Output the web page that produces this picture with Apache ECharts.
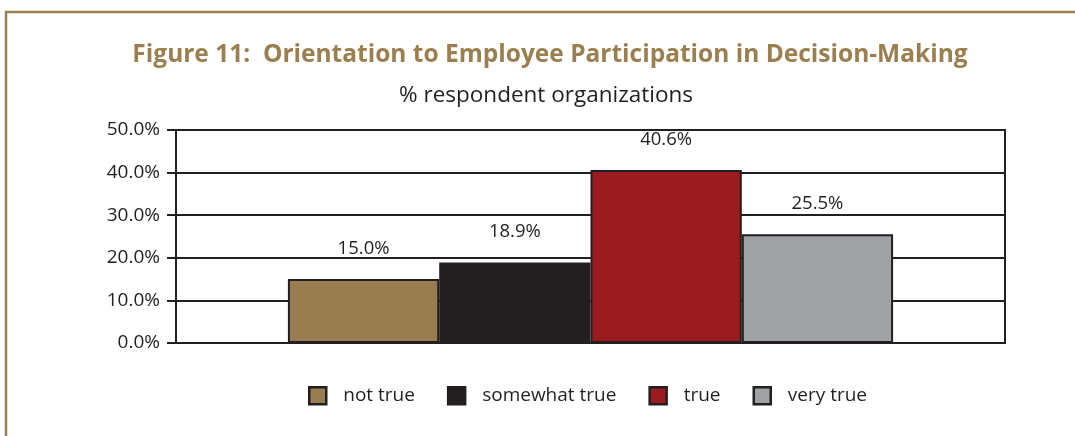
<!DOCTYPE html>
<html>
<head>
<meta charset="utf-8">
<script src="https://cdn.jsdelivr.net/npm/echarts@6/dist/echarts.min.js"></script>
<style>
  html, body { margin: 0; padding: 0; background: #fff; }
  #main { width: 1075px; height: 436px; }
</style>
</head>
<body>
<div id="main"></div>
<script>
// data
const categories = ["orientation"];
const seriesNames = ["not true", "somewhat true", "true", "very true"];
const seriesValues = [[15.0], [18.9], [40.6], [25.5]];
const seriesColors = ["#977d4f", "#231f20", "#9b1b20", "#a0a1a4"];
const yTicks = [0, 10, 20, 30, 40, 50];

const font = "'Open Sans', 'Noto Sans', sans-serif";
const pct = (v) => Number(v).toFixed(1) + "%";

const option = {
  animation: false,
  backgroundColor: "#fff",
  textStyle: { fontFamily: font },
  // outer frame
  graphic: [
    {
      type: "polyline",
      shape: { points: [[6, 436], [6, 12], [1075, 12]] },
      style: { stroke: "#9b8052", lineWidth: 2.5, fill: null },
    },
  ],
  title: [
    {
      text: "Figure 11:  Orientation to Employee Participation in Decision-Making",
      left: 545,
      textAlign: "center",
      top: 38,
      textStyle: { color: "#9b7f4f", fontSize: 24.5, fontWeight: "bold", fontFamily: font },
    },
    {
      text: "% respondent organizations",
      left: 541,
      textAlign: "center",
      top: 79,
      textStyle: { color: "#231f20", fontSize: 22.5, fontWeight: "normal", fontFamily: font },
    },
  ],
  grid: {
    left: 176,
    right: 70,
    top: 130,
    bottom: 93,
    show: true,
    borderColor: "#231f20",
    borderWidth: 2,
  },
  legend: {
    top: 381,
    left: 303,
    itemWidth: 17,
    itemHeight: 17,
    itemGap: 32,
    icon: "rect",
    itemStyle: { borderColor: "#231f20", borderWidth: 2.5 },
    textStyle: { fontSize: 19, color: "#231f20", fontFamily: font, padding: [0, 0, 0, 12] },
    data: seriesNames,
  },
  xAxis: {
    type: "category",
    data: categories,
    axisLine: { show: false },
    axisTick: { show: false },
    axisLabel: { show: false },
  },
  yAxis: {
    type: "value",
    min: yTicks[0],
    max: yTicks[yTicks.length - 1],
    interval: 10,
    axisLine: { show: true, lineStyle: { color: "#231f20", width: 2 } },
    axisTick: { show: true, length: 9, lineStyle: { color: "#231f20", width: 2 } },
    axisLabel: { formatter: pct, fontSize: 19, color: "#231f20", margin: 16, fontFamily: font },
    splitLine: { show: true, lineStyle: { color: "#231f20", width: 2 } },
  },
  series: seriesNames.map((name, i) => ({
    name: name,
    type: "bar",
    data: seriesValues[i],
    barGap: "0%",
    barCategoryGap: "27%",
    itemStyle: { color: seriesColors[i], borderColor: "#231f20", borderWidth: 2 },
    label: {
      show: true,
      position: "top",
      distance: 21,
      formatter: (p) => pct(p.value),
      fontSize: 18.5,
      color: "#231f20",
      fontFamily: font,
    },
  })),
};

const chart = echarts.init(document.getElementById("main"));
chart.setOption(option);
</script>
</body>
</html>
